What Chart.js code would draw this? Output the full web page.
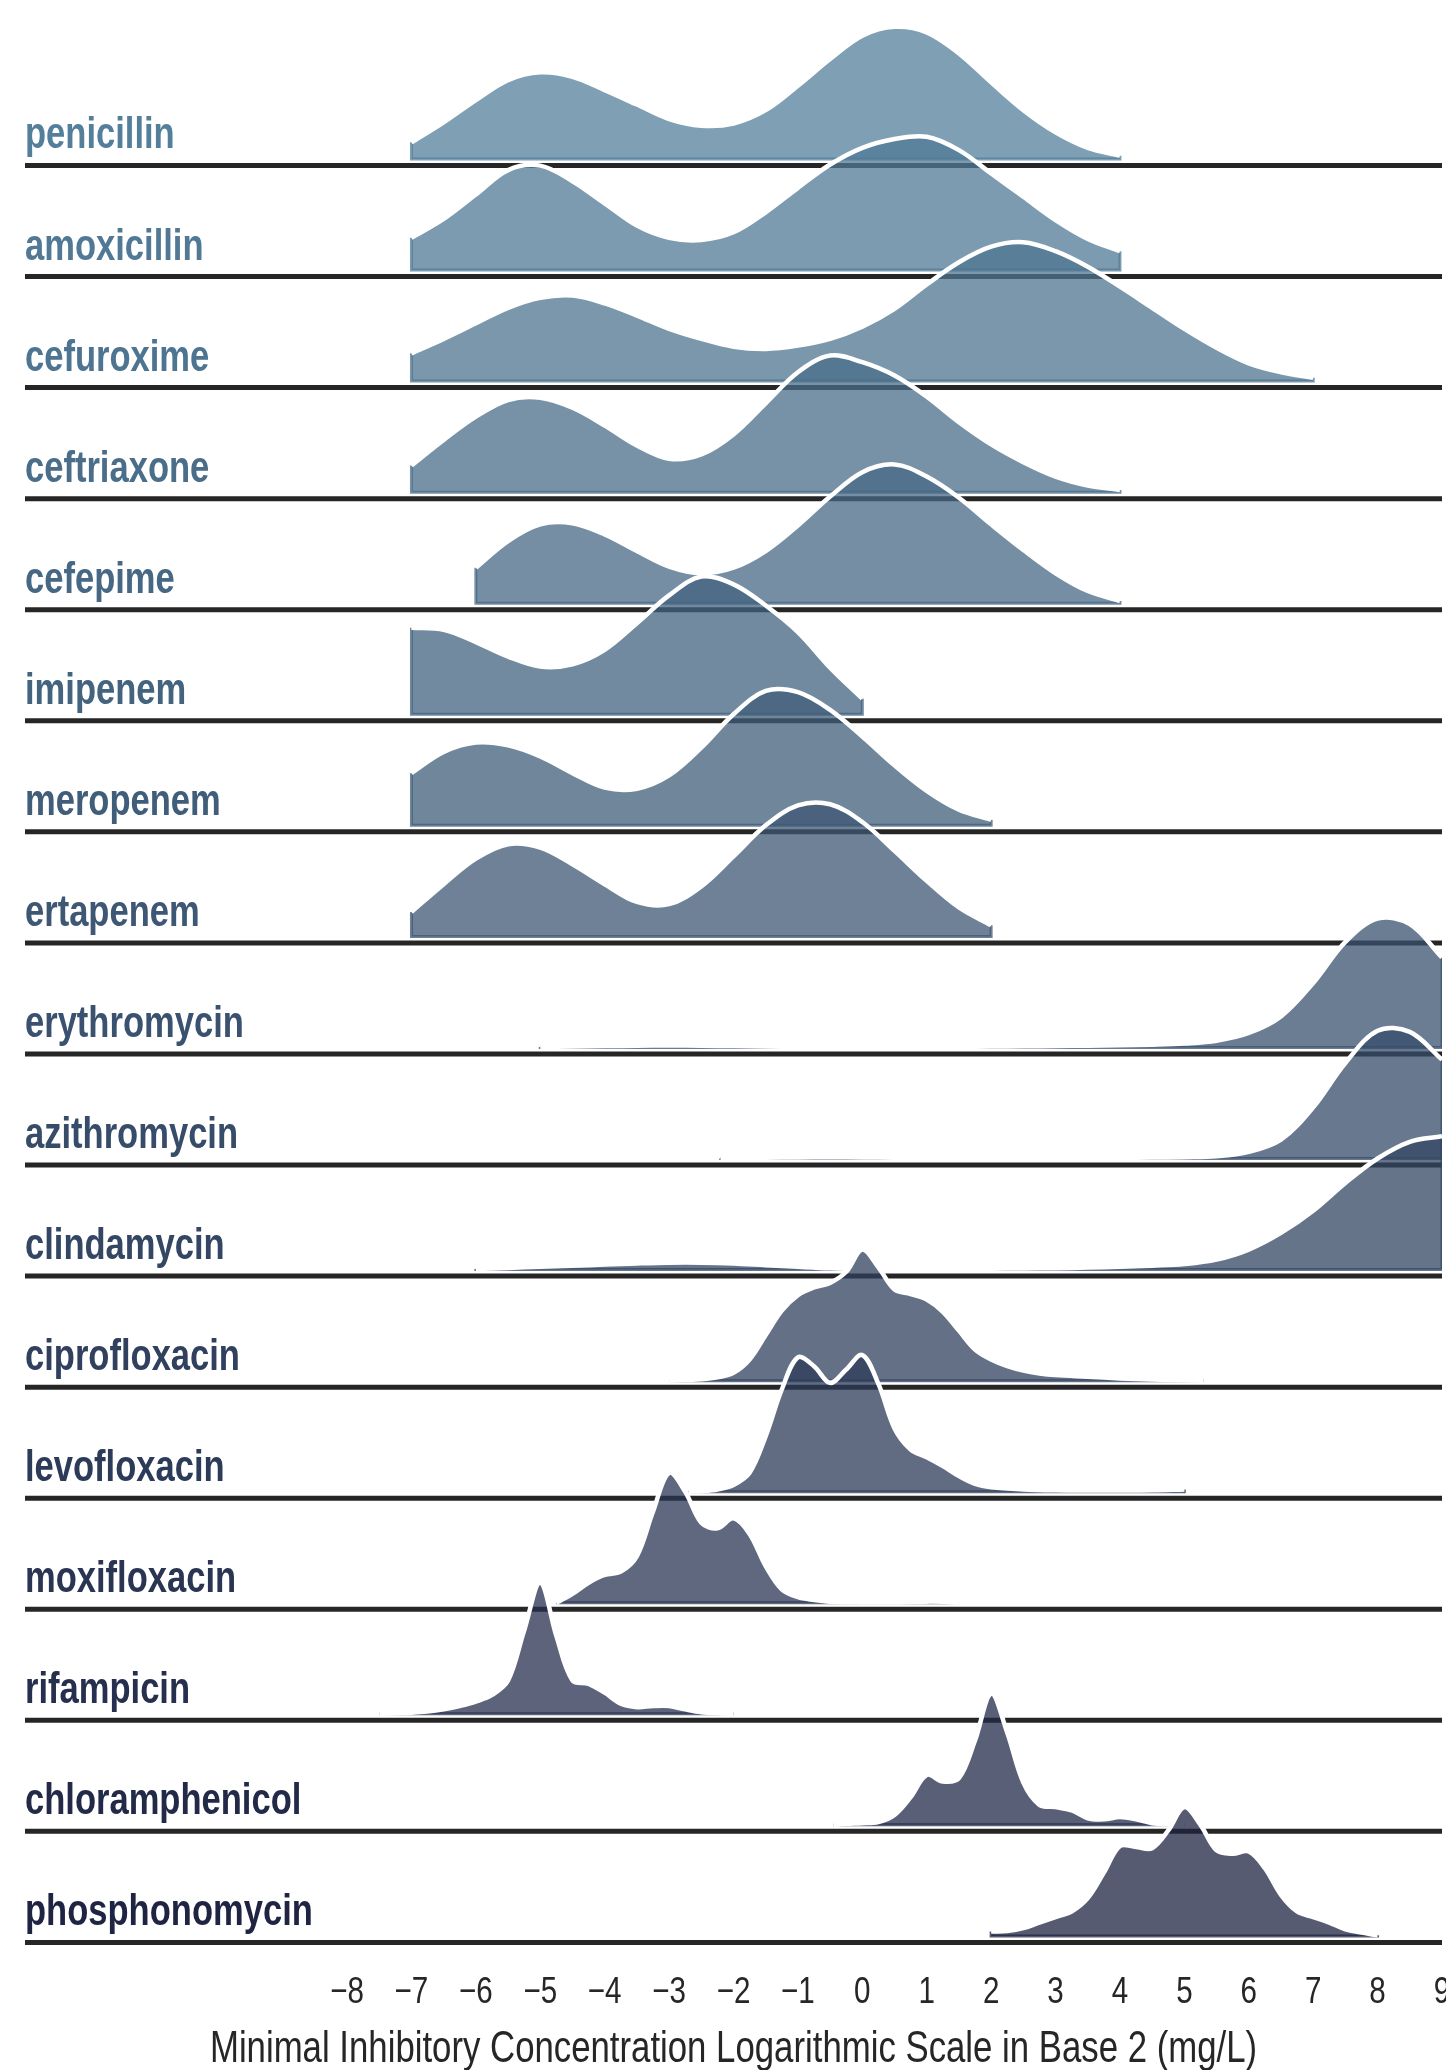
<!DOCTYPE html>
<html>
<head>
<meta charset="utf-8">
<script src="https://cdn.jsdelivr.net/npm/chart.js@4.4.1/dist/chart.umd.min.js"></script>
<style>
  html, body { margin: 0; padding: 0; background: #ffffff; }
  #wrap { width: 1446px; height: 2070px; }
</style>
</head>
<body>
<div id="wrap"><canvas id="ridges" width="1446" height="2070"></canvas></div>
<script>
// Antibiotics, one ridge each, top to bottom
const antibiotics = [
  'penicillin', 'amoxicillin', 'cefuroxime', 'ceftriaxone', 'cefepime',
  'imipenem', 'meropenem', 'ertapenem', 'erythromycin', 'azithromycin',
  'clindamycin', 'ciprofloxacin', 'levofloxacin', 'moxifloxacin',
  'rifampicin', 'chloramphenicol', 'phosphonomycin'
];

// Density ridges: [log2 MIC, density height in row units]
const penicillin = [[-7,0.15],[-6.5,0.33],[-6,0.53],[-5.5,0.71],[-5,0.78],[-4.5,0.74],[-4,0.62],[-3.5,0.49],[-3,0.36],[-2.5,0.30],[-2,0.32],[-1.5,0.44],[-1,0.66],[-0.5,0.90],[0,1.11],[0.5,1.19],[1,1.14],[1.5,0.95],[2,0.69],[2.5,0.44],[3,0.24],[3.5,0.10],[4,0.03]];
const amoxicillin = [[-7,0.29],[-6.5,0.46],[-6,0.68],[-5.5,0.90],[-5,0.94],[-4.5,0.80],[-4,0.60],[-3.5,0.40],[-3,0.29],[-2.5,0.27],[-2,0.34],[-1.5,0.52],[-1,0.74],[-0.5,0.95],[0,1.10],[0.5,1.18],[1,1.20],[1.5,1.08],[2,0.87],[2.5,0.66],[3,0.45],[3.5,0.28],[4,0.17]];
const cefuroxime = [[-7,0.25],[-6.5,0.38],[-6,0.52],[-5.5,0.66],[-5,0.75],[-4.5,0.77],[-4,0.70],[-3.5,0.59],[-3,0.47],[-2.5,0.38],[-2,0.31],[-1.5,0.29],[-1,0.32],[-0.5,0.38],[0,0.49],[0.5,0.65],[1,0.87],[1.5,1.07],[2,1.21],[2.5,1.25],[3,1.17],[3.5,1.03],[4,0.85],[4.5,0.66],[5,0.47],[5.5,0.30],[6,0.16],[6.5,0.08],[7,0.03]];
const ceftriaxone = [[-7,0.24],[-6.5,0.47],[-6,0.68],[-5.5,0.83],[-5,0.85],[-4.5,0.76],[-4,0.60],[-3.5,0.42],[-3,0.30],[-2.5,0.34],[-2,0.52],[-1.5,0.80],[-1,1.08],[-0.5,1.23],[0,1.17],[0.5,1.05],[1,0.86],[1.5,0.63],[2,0.43],[2.5,0.27],[3,0.14],[3.5,0.06],[4,0.02]];
const cefepime = [[-6,0.32],[-5.5,0.56],[-5,0.71],[-4.5,0.72],[-4,0.62],[-3.5,0.47],[-3,0.33],[-2.5,0.27],[-2,0.32],[-1.5,0.47],[-1,0.70],[-0.5,0.96],[0,1.18],[0.5,1.25],[1,1.14],[1.5,0.95],[2,0.71],[2.5,0.48],[3,0.27],[3.5,0.11],[4,0.02]];
const imipenem = [[-7,0.78],[-6.5,0.76],[-6,0.65],[-5.5,0.52],[-5,0.43],[-4.5,0.45],[-4,0.58],[-3.5,0.82],[-3,1.07],[-2.5,1.24],[-2,1.17],[-1.5,0.98],[-1,0.74],[-0.5,0.42],[0,0.14]];
const meropenem = [[-7,0.47],[-6.5,0.66],[-6,0.745],[-5.5,0.72],[-5,0.62],[-4.5,0.47],[-4,0.34],[-3.5,0.33],[-3,0.45],[-2.5,0.70],[-2,1.00],[-1.5,1.21],[-1,1.20],[-0.5,1.04],[0,0.80],[0.5,0.54],[1,0.31],[1.5,0.14],[2,0.05]];
const ertapenem = [[-7,0.22],[-6.5,0.47],[-6,0.70],[-5.5,0.83],[-5,0.80],[-4.5,0.65],[-4,0.47],[-3.5,0.31],[-3,0.29],[-2.5,0.45],[-2,0.72],[-1.5,1.00],[-1,1.18],[-0.5,1.19],[0,1.03],[0.5,0.77],[1,0.50],[1.5,0.26],[2,0.10]];
const erythromycin = [[-5,0.003],[-4.5,0.008],[-4,0.012],[-3.5,0.016],[-3,0.018],[-2.5,0.016],[-2,0.012],[-1.5,0.008],[-1,0.005],[-0.5,0.004],[0,0.004],[0.5,0.004],[1,0.005],[1.5,0.006],[2,0.008],[2.5,0.010],[3,0.013],[3.5,0.016],[4,0.020],[4.5,0.025],[5,0.035],[5.5,0.06],[6,0.13],[6.5,0.28],[7,0.58],[7.5,0.95],[8,1.16],[8.5,1.11],[9,0.81]];
const azithromycin = [[-2.2,0.001],[-2,0.002],[-1.5,0.006],[-1,0.010],[-0.5,0.012],[0,0.010],[0.5,0.006],[1,0.004],[1.5,0.003],[2,0.003],[2.5,0.003],[3,0.004],[3.5,0.005],[4,0.006],[4.5,0.008],[5,0.012],[5.5,0.02],[6,0.06],[6.5,0.17],[7,0.46],[7.5,0.86],[8,1.15],[8.5,1.14],[9,0.89]];
const clindamycin = [[-6,0.005],[-5.5,0.015],[-5,0.025],[-4.5,0.035],[-4,0.045],[-3.5,0.055],[-3,0.062],[-2.5,0.062],[-2,0.055],[-1.5,0.040],[-1,0.025],[-0.5,0.012],[0,0.006],[0.5,0.005],[1,0.005],[1.5,0.006],[2,0.008],[2.5,0.010],[3,0.013],[3.5,0.018],[4,0.025],[4.5,0.035],[5,0.05],[5.5,0.09],[6,0.18],[6.5,0.33],[7,0.53],[7.5,0.78],[8,1.00],[8.5,1.15],[9,1.20]];
const ciprofloxacin = [[-3,0.0],[-2.75,0.005],[-2.5,0.012],[-2.25,0.03],[-2,0.07],[-1.75,0.19],[-1.5,0.41],[-1.25,0.63],[-1,0.77],[-0.75,0.84],[-0.5,0.88],[-0.25,0.98],[0,1.18],[0.25,1.02],[0.5,0.82],[0.75,0.78],[1,0.73],[1.25,0.62],[1.5,0.45],[1.75,0.28],[2,0.19],[2.25,0.13],[2.5,0.09],[2.75,0.065],[3,0.05],[3.5,0.035],[4,0.02],[4.5,0.01],[5,0.004],[5.3,0.0]];
const levofloxacin = [[-2.7,0.0],[-2.5,0.005],[-2.25,0.02],[-2,0.06],[-1.75,0.17],[-1.5,0.50],[-1.25,0.92],[-1,1.21],[-0.75,1.13],[-0.5,0.98],[-0.25,1.10],[0,1.23],[0.25,0.97],[0.5,0.57],[0.75,0.38],[1,0.31],[1.25,0.23],[1.5,0.14],[1.75,0.07],[2,0.04],[2.5,0.02],[3,0.012],[3.5,0.01],[4,0.01],[4.5,0.012],[5,0.02]];
const moxifloxacin = [[-4.75,0.0],[-4.5,0.08],[-4.25,0.18],[-4,0.25],[-3.75,0.28],[-3.5,0.42],[-3.25,0.82],[-3,1.17],[-2.75,1.00],[-2.5,0.72],[-2.25,0.67],[-2,0.76],[-1.75,0.62],[-1.5,0.33],[-1.25,0.12],[-1,0.05],[-0.75,0.025],[-0.5,0.01],[0,0.003],[0.5,0.002],[1,0.01],[1.25,0.008],[1.5,0.0]];
const rifampicin = [[-7.5,0.0],[-7,0.01],[-6.75,0.02],[-6.5,0.04],[-6.25,0.07],[-6,0.11],[-5.75,0.17],[-5.5,0.30],[-5.25,0.75],[-5,1.18],[-4.75,0.70],[-4.5,0.30],[-4.25,0.27],[-4,0.19],[-3.75,0.09],[-3.5,0.06],[-3.25,0.07],[-3,0.07],[-2.75,0.04],[-2.5,0.015],[-2.25,0.005],[-2,0.0]];
const chloramphenicol = [[-0.45,0.0],[-0.25,0.01],[0,0.015],[0.25,0.025],[0.5,0.09],[0.75,0.25],[1,0.45],[1.25,0.39],[1.5,0.42],[1.75,0.76],[2,1.18],[2.25,0.83],[2.5,0.38],[2.75,0.18],[3,0.16],[3.25,0.13],[3.5,0.06],[3.75,0.05],[4,0.07],[4.25,0.05],[4.5,0.015],[4.75,0.005],[5,0.0]];
const phosphonomycin = [[2,0.04],[2.25,0.045],[2.5,0.07],[2.75,0.12],[3,0.17],[3.25,0.22],[3.5,0.34],[3.75,0.57],[4,0.81],[4.25,0.80],[4.5,0.79],[4.75,0.95],[5,1.16],[5.25,1.00],[5.5,0.77],[5.75,0.74],[6,0.76],[6.25,0.61],[6.5,0.37],[6.75,0.22],[7,0.17],[7.25,0.12],[7.5,0.06],[7.75,0.03],[8,0.005]];

const curves = [
  penicillin, amoxicillin, cefuroxime, ceftriaxone, cefepime,
  imipenem, meropenem, ertapenem, erythromycin, azithromycin,
  clindamycin, ciprofloxacin, levofloxacin, moxifloxacin,
  rifampicin, chloramphenicol, phosphonomycin
];

// x axis: log2 MIC range and the tick values that get labels
const xRange = [-13, 9];
const xTicks = [-8, -7, -6, -5, -4, -3, -2, -1, 0, 1, 2, 3, 4, 5, 6, 7, 8, 9];
const xTitle = 'Minimal Inhibitory Concentration Logarithmic Scale in Base 2 (mg/L)';

// One colour per ridge, light steel blue at the top to dark navy at the bottom
const rowColors = [
  '#547f9b', '#517995', '#4d7490', '#4a6e8a', '#476885', '#43637f',
  '#405d7a', '#3d5774', '#3a526f', '#364c69', '#334663', '#30405e',
  '#2c3b58', '#293553', '#262f4d', '#222a48', '#1f2442'
];

const FILL_ALPHA = 0.75;
const CURVE_TENSION = 0.35;
const SPINE_DROP = 0.0585;   // baseline rule sits just under each ridge
const TEXT_FONT = '"Liberation Sans", Arial, Helvetica, sans-serif';

function rgba(hex, a) {
  const n = parseInt(hex.slice(1), 16);
  return `rgba(${(n >> 16) & 255},${(n >> 8) & 255},${n & 255},${a})`;
}

const nRows = antibiotics.length;
const datasets = [];
curves.forEach((pts, i) => {
  const base = nRows - 1 - i;          // row baseline on the y scale
  const color = rowColors[i];
  const ridge = pts.map(([x, h]) => ({ x, y: base + h }));
  const first = pts[0], last = pts[pts.length - 1];
  const z = base * 10;                  // upper rows are painted first

  // filled density
  datasets.push({
    label: antibiotics[i],
    data: ridge,
    fill: { value: base },
    backgroundColor: rgba(color, FILL_ALPHA),
    borderWidth: 0,
    tension: CURVE_TENSION,
    order: z + 4
  });
  // outline of the fill along the bottom and cut ends
  datasets.push({
    label: antibiotics[i] + ' edge',
    data: [
      { x: first[0], y: base + first[1] }, { x: first[0], y: base },
      { x: last[0], y: base }, { x: last[0], y: base + last[1] }
    ],
    fill: false,
    borderColor: rgba(color, FILL_ALPHA),
    borderWidth: 3,
    tension: 0,
    order: z + 3
  });
  // white contour on top of the ridge
  datasets.push({
    label: antibiotics[i] + ' contour',
    data: ridge,
    fill: false,
    borderColor: '#ffffff',
    borderWidth: 4.5,
    borderCapStyle: 'butt',
    tension: CURVE_TENSION,
    order: z + 2
  });
  // baseline rule across the full width
  datasets.push({
    label: antibiotics[i] + ' rule',
    data: [{ x: xRange[0], y: base - SPINE_DROP }, { x: xRange[1], y: base - SPINE_DROP }],
    fill: false,
    borderColor: '#262626',
    borderWidth: 5,
    borderCapStyle: 'butt',
    order: z + 1
  });
});

function drawText(ctx, text, x, y, font, color, align, squeeze) {
  ctx.save();
  ctx.translate(x, y);
  ctx.scale(squeeze, 1);
  ctx.font = font;
  ctx.fillStyle = color;
  ctx.textAlign = align;
  ctx.textBaseline = 'alphabetic';
  ctx.fillText(text, 0, 0);
  ctx.restore();
}

const ridgeText = {
  id: 'ridgeText',
  afterDatasetsDraw(chart) {
    const { ctx, scales: { x, y } } = chart;
    antibiotics.forEach((name, i) => {
      const base = nRows - 1 - i;
      drawText(ctx, name, x.left, y.getPixelForValue(base) - 10.5,
        `bold 44px ${TEXT_FONT}`, rowColors[i], 'left', 0.785);
    });
    xTicks.forEach(t => {
      const txt = t < 0 ? '\u2212' + Math.abs(t) : String(t);
      drawText(ctx, txt, x.getPixelForValue(t), y.bottom + 28.5,
        `37px ${TEXT_FONT}`, '#262626', 'center', 0.8);
    });
    drawText(ctx, xTitle, (x.left + x.right) / 2, y.bottom + 87,
      `44px ${TEXT_FONT}`, '#262626', 'center', 0.79);
  }
};

new Chart(document.getElementById('ridges'), {
  type: 'line',
  data: { datasets },
  options: {
    responsive: false,
    animation: false,
    devicePixelRatio: 1,
    layout: { padding: { left: 25, right: 4, top: 14.6, bottom: 95.2 } },
    elements: { point: { radius: 0, hoverRadius: 0 } },
    plugins: { legend: { display: false }, tooltip: { enabled: false } },
    events: [],
    scales: {
      x: { type: 'linear', min: xRange[0], max: xRange[1], display: false },
      y: { type: 'linear', min: -0.35, max: 17.3, display: false }
    }
  },
  plugins: [ridgeText]
});
</script>
</body>
</html>
